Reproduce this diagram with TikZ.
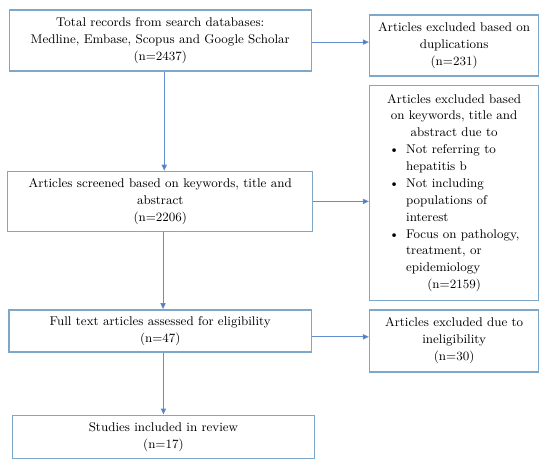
\documentclass[tikz,border=0pt]{standalone}
\usepackage{tikz}
\usetikzlibrary{arrows.meta,positioning,calc}
\definecolor{boxline}{RGB}{125,168,202}
\definecolor{flowline}{RGB}{100,140,205}
\definecolor{tipblue}{RGB}{68,114,196}
\tikzset{
  lbox/.style ={rectangle, draw=boxline, line width=1pt, fill=white,
                align=center, inner sep=1pt,
                font=\fontsize{9}{12}\selectfont},
  rbox/.style ={lbox, minimum width=42.25mm},
  flow/.style ={-{Triangle[length=1.5mm,width=1.3mm,fill=tipblue]},
                line width=0.7pt, draw=flowline}
}
% one bullet line and its follow-on lines, all 130px wide so they line up
\newcommand{\bline}[1]{\makebox[32.5mm][l]{\makebox[4.25mm][l]{\textbullet}#1}}
\newcommand{\bmore}[1]{\makebox[32.5mm][l]{\hspace{4.25mm}#1}}

\begin{document}
\begin{tikzpicture}
  \useasboundingbox (0,0) rectangle (137.5mm,-116.25mm);
  % left column
  \node[lbox, minimum width=75.5mm, minimum height=15.25mm] (total) at (40.06mm,-10.125mm)
       {Total records from search databases:\\Medline, Embase, Scopus and Google Scholar\\(n=2437)};
  \node[lbox, below=24.75mm of total, minimum width=76.25mm, minimum height=15mm] (screen)
       {Articles screened based on keywords, title and\\abstract\\(n=2206)};
  \node[lbox, below=19.25mm of screen, minimum width=75.6mm, minimum height=10.5mm] (full)
       {Full text articles assessed for eligibility\\(n=47)};
  \node[lbox, below=15.5mm of full, xshift=0.8mm, minimum width=75.6mm, minimum height=10.75mm] (incl)
       {Studies included in review\\(n=17)};
  % right column
  \node[rbox, right=14.25mm of total, yshift=-1.25mm, minimum height=15.25mm] (dup)
       {Articles excluded based on\\duplications\\(n=231)};
  \node[rbox, below=2mm of dup, minimum height=53.75mm] (excl)
       {Articles excluded based\\on keywords, title and\\abstract due to\\
        \bline{Not referring to}\\\bmore{hepatitis b}\\
        \bline{Not including}\\\bmore{populations of}\\\bmore{interest}\\
        \bline{Focus on pathology,}\\\bmore{treatment, or}\\\bmore{epidemiology}\\
        (n=2159)};
  \node[rbox, below=2mm of excl, minimum height=15.5mm] (inelig)
       {Articles excluded due to\\ineligibility\\(n=30)};
  % connectors
  \draw[flow] ([xshift=1mm]total.south) -- ([xshift=1mm]total.south |- screen.north);
  \draw[flow] ([xshift=0.7mm]screen.south) -- ([xshift=0.7mm]screen.south |- full.north);
  \draw[flow] ([xshift=0.8mm]full.south) -- ([xshift=0.8mm]full.south |- incl.north);
  \draw[flow] ([yshift=-0.4mm]total.east) -- ([yshift=-0.4mm]total.east -| dup.west);
  \draw[flow] (screen.east) -- (screen.east -| excl.west);
  \draw[flow] ([yshift=-1.5mm]full.east) -- ([yshift=-1.5mm]full.east -| inelig.west);
\end{tikzpicture}
\end{document}
